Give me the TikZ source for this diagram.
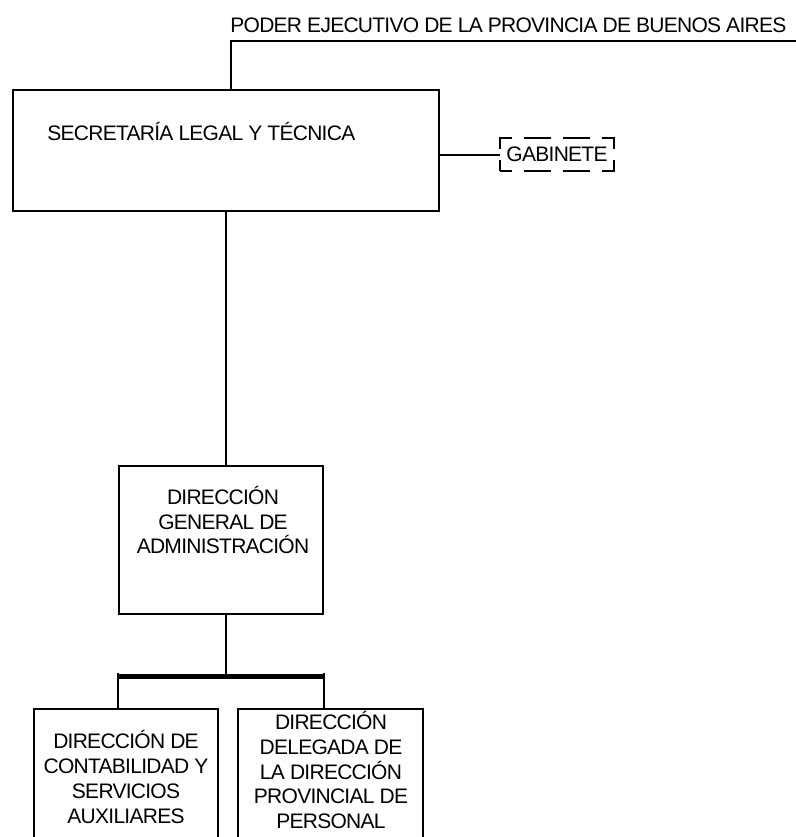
\documentclass[tikz,border=0pt]{standalone}
\usepackage{fontspec}
\setmainfont{Liberation Sans}[LetterSpace=-3.5]
\usetikzlibrary{positioning}
\tikzset{
      orgbox/.style={draw, line width=1.1pt, inner sep=0pt, outer sep=0pt},
      orgtext/.style={align=center, inner sep=0pt, font=\fontsize{10.5}{12.4}\selectfont},
      gabbox/.style={draw, line width=1pt, inner sep=0pt, outer sep=0pt,
        dash pattern=on 11.5pt off 6pt on 13.5pt off 6pt on 13.5pt off 6pt on 11.5pt off 5.5pt,
        dash phase=5.5pt}, % <----- solid corners, two dashes on the long sides
      thinlink/.style={line width=0.6pt},
      mainlink/.style={line width=1pt},
      heavybar/.style={line width=2.5pt}
    }

\begin{document}
\begin{tikzpicture}[x=0.5pt,y=-0.5pt]
\useasboundingbox (0,0) rectangle (796,837);
\path[clip] (0,0) rectangle (796,837);
\node[orgbox,minimum width=213pt,minimum height=60.5pt] (sec) at (226,150.75) {};
\node[gabbox,orgtext,minimum width=57pt,minimum height=16.5pt] (gab) at (557,154.5) {GABINETE};
\node[orgbox,minimum width=102pt,minimum height=74pt] (dga) at (221,540) {};
\node[orgbox,minimum width=92pt,minimum height=100pt] (dcs) at (126,809) {};
\node[orgbox,minimum width=92.5pt,minimum height=100pt] (dpp) at (330.5,809) {};
\node[orgtext,anchor=base west] (poder) at (230,32.5) {PODER EJECUTIVO DE LA PROVINCIA DE BUENOS AIRES};
\node[orgtext,anchor=base west] (secText) at (47,140.5) {SECRETARÍA LEGAL Y TÉCNICA};
\node[orgtext] (dgaText) at (223,520) {DIRECCIÓN\\GENERAL DE\\ADMINISTRACIÓN};
\node[orgtext] (dcsText) at (126,777) {DIRECCIÓN DE\\CONTABILIDAD Y\\SERVICIOS\\AUXILIARES};
\node[orgtext] (dppText) at (331,770) {DIRECCIÓN\\DELEGADA DE\\LA DIRECCIÓN\\PROVINCIAL DE\\PERSONAL};
\coordinate (peTop) at (231,41);
\coordinate (peEnd) at (796,41);
\coordinate (barL) at (118,676);
\coordinate (barR) at (324,676);
\draw[mainlink] (sec.north -| peTop) |- (peEnd);
\draw[mainlink] (gab.west -| sec.east) -- (gab.west);
\draw[thinlink] (sec.south) -- (sec.south |- dga.north);
\draw[thinlink] (sec.south |- dga.south) -- (sec.south |- barL);
\draw[heavybar] ([xshift=-0.5pt]barL) -- ([xshift=0.5pt]barR);
\draw[thinlink] ([yshift=1.75pt]barL) -- (barL |- dcs.north);
\draw[thinlink] ([yshift=1.75pt]barR) -- (barR |- dpp.north);
\end{tikzpicture}
\end{document}
